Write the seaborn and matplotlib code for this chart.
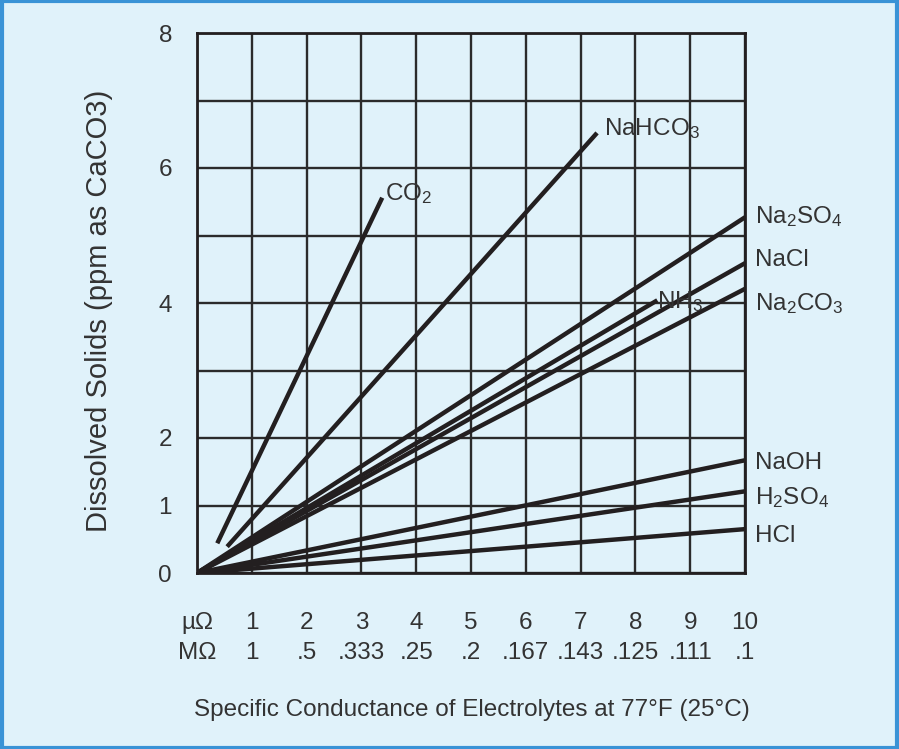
import matplotlib
matplotlib.use("Agg")
from matplotlib import pyplot as plt
from matplotlib.patches import Rectangle
import pandas as pd
import seaborn as sns

# lines: start and end point of each electrolyte
compounds = ["CO2", "NaHCO3", "Na2SO4", "NH3", "NaCl", "Na2CO3", "NaOH", "H2SO4", "HCl"]
x_start = [0.37, 0.55, 0, 0, 0, 0, 0, 0, 0]
y_start = [0.44, 0.39, 0, 0, 0, 0, 0, 0, 0]
x_end = [3.38, 7.30, 10, 8.4, 10, 10, 10, 10, 10]
y_end = [5.56, 6.52, 5.27, 4.04, 4.59, 4.21, 1.67, 1.21, 0.65]
line_labels = [r"CO$_2$", r"NaHCO$_3$", r"Na$_2$SO$_4$", r"NH$_3$", "NaCl",
               r"Na$_2$CO$_3$", "NaOH", r"H$_2$SO$_4$", "HCl"]

x_ticks = list(range(11))
micro_ohm = ["µΩ", "1", "2", "3", "4", "5", "6", "7", "8", "9", "10"]
mega_ohm = ["MΩ", "1", ".5", ".333", ".25", ".2", ".167", ".143", ".125", ".111", ".1"]
y_labelled = [0, 1, 2, 4, 6, 8]

# label offsets from line ends, in pixels
label_dx = [3, 7, 10, 0, 10, 10, 10, 10, 10]
label_dy = [-2, -2, -6, -8, -3, -21, -9, -13, -13]

bg = "#e0f2fa"
ink = "#231f20"
txt = "#333333"
fs = 17.5

sns.set_style("white")
plt.rcParams["font.family"] = ["Liberation Sans", "DejaVu Sans"]
plt.rcParams["mathtext.fontset"] = "custom"
plt.rcParams["mathtext.rm"] = "Liberation Sans"
plt.rcParams["mathtext.it"] = "Liberation Sans"
plt.rcParams["mathtext.bf"] = "Liberation Sans"

rows = []
for name, xs, ys, xe, ye in zip(compounds, x_start, y_start, x_end, y_end):
    rows.append({"compound": name, "x": xs, "y": ys})
    rows.append({"compound": name, "x": xe, "y": ye})
df = pd.DataFrame(rows)

fig = plt.figure(figsize=(8.99, 7.49), dpi=100, facecolor=bg)
ax = fig.add_axes([197 / 899, 1 - 573 / 749, 548 / 899, 540 / 749])
ax.set_facecolor(bg)

sns.lineplot(data=df, x="x", y="y", units="compound", estimator=None,
             color=ink, lw=3.2, ax=ax, sort=False, solid_capstyle="butt")

ax.set_xlim(0, 10)
ax.set_ylim(0, 8)

ax.set_xticks(x_ticks, [a + "\n" + b for a, b in zip(micro_ohm, mega_ohm)])
ax.set_yticks(range(9), [str(v) if v in y_labelled else "" for v in range(9)])
ax.tick_params(axis="both", length=0, labelsize=fs, colors=txt)
ax.tick_params(axis="x", pad=28)
ax.tick_params(axis="y", pad=18)
for t in ax.get_xticklabels():
    t.set_linespacing(1.5)

ax.grid(True, color="#2b2b2b", lw=1.7)
for s in ax.spines.values():
    s.set_color(ink)
    s.set_linewidth(2)

for xe, ye, lab, dx, dy in zip(x_end, y_end, line_labels, label_dx, label_dy):
    ax.annotate(lab, (xe, ye), xytext=(dx, dy), textcoords="offset pixels",
                ha="left", va="baseline", fontsize=fs, color=txt)

ax.set_xlabel("Specific Conductance of Electrolytes at 77°F (25°C)",
              fontsize=fs, color=txt, va="center")
ax.xaxis.set_label_coords(0.502, -0.254)
ax.set_ylabel("Dissolved Solids (ppm as CaCO3)", fontsize=21,
              color=txt, va="center")
ax.yaxis.set_label_coords(-0.178, 0.485)

fig.patches.append(Rectangle((0.002, 0.002), 0.996, 0.996, transform=fig.transFigure,
                             fill=False, edgecolor="#3a93d6", lw=3))

fig.savefig("out.png", dpi=100, facecolor=bg)
